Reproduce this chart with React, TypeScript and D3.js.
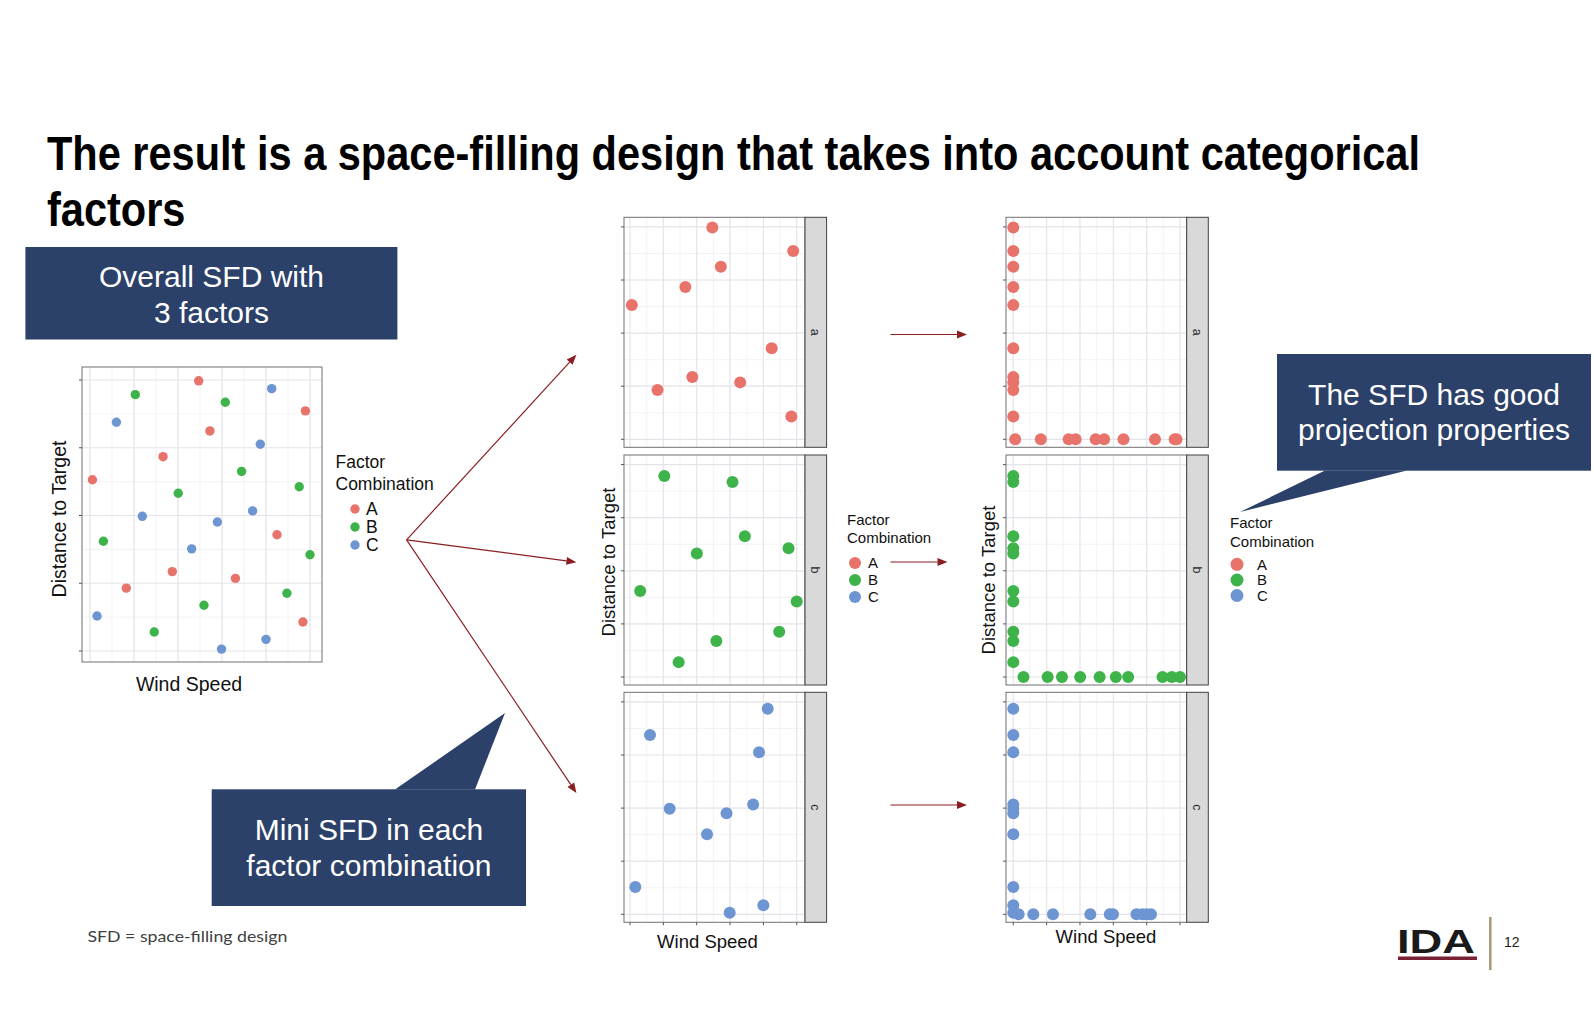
import React, { useRef, useEffect } from "react";
import * as d3 from "d3";

// factor combinations and their colours
const categories = ["A", "B", "C"];
const facetNames = ["a", "b", "c"];
const categoryColors = ["#E8736B", "#3DB34A", "#6D95D2"];

// scaled design points (wind speed, distance to target), one pair of lists per combination
const windA = [0.494, 0.979, 0.545, 0.332, 0.011, 0.85, 0.374, 0.661, 0.165, 0.968];
const distA = [0.997, 0.886, 0.812, 0.717, 0.632, 0.429, 0.293, 0.268, 0.232, 0.107];
const windB = [0.206, 0.615, 0.689, 0.951, 0.401, 0.061, 1.0, 0.895, 0.518, 0.292];
const distB = [0.946, 0.918, 0.663, 0.606, 0.582, 0.405, 0.355, 0.213, 0.169, 0.07];
const windC = [0.826, 0.12, 0.774, 0.739, 0.238, 0.579, 0.462, 0.032, 0.8, 0.598];
const distC = [0.968, 0.844, 0.763, 0.517, 0.497, 0.476, 0.377, 0.129, 0.043, 0.007];

const xBreaks = [0, 0.2, 0.4, 0.6, 0.8, 1];
const xMinor = [0.1, 0.3, 0.5, 0.7, 0.9];
const yBreaks = [0, 0.25, 0.5, 0.75, 1];
const yMinor = [0.125, 0.375, 0.625, 0.875];

const titleLines = [
  "The result is a space-filling design that takes into account categorical",
  "factors",
];
const overallLines = ["Overall SFD with", "3 factors"];
const miniLines = ["Mini SFD in each", "factor combination"];
const projLines = ["The SFD has good", "projection properties"];
const footnote = "SFD = space-filling design";
const pageNumber = "12";

const winds = [windA, windB, windC];
const dists = [distA, distB, distC];

const NAVY = "#2C4169";
const ARROW = "#8B1E22";
const SANS = "'Liberation Sans', Arial, Helvetica, sans-serif";

type Pt = { x: number; y: number; c: string };

function Panel({ left, top, width, height, xPad, yPad, pts, r, strip, xTicks }: any) {
  const x = d3.scaleLinear().domain([0, 1]).range([left + xPad[0], left + width - xPad[1]]);
  const y = d3.scaleLinear().domain([0, 1]).range([top + height - yPad[1], top + yPad[0]]);
  const bottom = top + height;
  const right = left + width;
  return (
    <g>
      <rect x={left} y={top} width={width} height={height} fill="#fff" />
      {xMinor.map((v) => (
        <line key={`xm${v}`} x1={x(v)} x2={x(v)} y1={top} y2={bottom} stroke="#F0F0F3" strokeWidth={0.8} />
      ))}
      {yMinor.map((v) => (
        <line key={`ym${v}`} x1={left} x2={right} y1={y(v)} y2={y(v)} stroke="#F0F0F3" strokeWidth={0.8} />
      ))}
      {xBreaks.map((v) => (
        <line key={`xb${v}`} x1={x(v)} x2={x(v)} y1={top} y2={bottom} stroke="#E4E4EA" strokeWidth={1.2} />
      ))}
      {yBreaks.map((v) => (
        <line key={`yb${v}`} x1={left} x2={right} y1={y(v)} y2={y(v)} stroke="#E4E4EA" strokeWidth={1.2} />
      ))}
      {(pts as Pt[]).map((p, i) => (
        <circle key={i} cx={x(p.x)} cy={y(p.y)} r={r} fill={p.c} />
      ))}
      <rect x={left} y={top} width={width} height={height} fill="none" stroke="#707070" strokeWidth={1} />
      {yBreaks.map((v) => (
        <line key={`yt${v}`} x1={left - 3} x2={left} y1={y(v)} y2={y(v)} stroke="#555" strokeWidth={1} />
      ))}
      {xTicks &&
        xBreaks.map((v) => (
          <line key={`xt${v}`} x1={x(v)} x2={x(v)} y1={bottom} y2={bottom + 3} stroke="#555" strokeWidth={1} />
        ))}
      {strip && (
        <g>
          <rect x={right} y={top} width={21.6} height={height} fill="#D9D9D9" stroke="#404040" strokeWidth={1} />
          <text
            transform={`translate(${right + 10.8},${top + height / 2}) rotate(90)`}
            textAnchor="middle"
            dy="0.35em"
            fontSize={12.5}
            fill="#2a2a2a"
          >
            {strip}
          </text>
        </g>
      )}
    </g>
  );
}

function Legend({ x, titleY, lineGap, dotX, dotYs, textX, size, r }: any) {
  return (
    <g fontSize={size} fill="#111">
      <text x={x} y={titleY}>Factor</text>
      <text x={x} y={titleY + lineGap}>Combination</text>
      {categories.map((c, i) => (
        <g key={c}>
          <circle cx={dotX} cy={dotYs[i]} r={r} fill={categoryColors[i]} />
          <text x={textX} y={dotYs[i] + size * 0.36}>{c}</text>
        </g>
      ))}
    </g>
  );
}

function Arrow({ x1, y1, x2, y2 }: any) {
  const a = Math.atan2(y2 - y1, x2 - x1);
  const len = 10;
  const hw = 4;
  const bx = x2 - len * Math.cos(a);
  const by = y2 - len * Math.sin(a);
  const px = -Math.sin(a) * hw;
  const py = Math.cos(a) * hw;
  return (
    <g>
      <line x1={x1} y1={y1} x2={bx} y2={by} stroke={ARROW} strokeWidth={1.2} />
      <path d={`M${x2},${y2}L${bx + px},${by + py}L${bx - px},${by - py}Z`} fill={ARROW} />
    </g>
  );
}

function Callout({ box, tail, lines, cx, baselines }: any) {
  const [x0, y0, x1, y1] = box;
  return (
    <g>
      <rect x={x0} y={y0} width={x1 - x0} height={y1 - y0} fill={NAVY} />
      <path d={`M${tail[0][0]},${tail[0][1]}L${tail[1][0]},${tail[1][1]}L${tail[2][0]},${tail[2][1]}Z`} fill={NAVY} />
      {lines.map((t: string, i: number) => (
        <text key={i} x={cx} y={baselines[i]} textAnchor="middle" fontSize={30} fill="#fff">
          {t}
        </text>
      ))}
    </g>
  );
}

export default function App() {
  const titleRef = useRef<SVGGElement>(null);

  // squeeze the bold title to the slide's condensed width
  useEffect(() => {
    const g = d3.select(titleRef.current);
    const first = g.select<SVGTextElement>("text.l0").node();
    if (!first) return;
    const natural = first.getComputedTextLength();
    const sx = natural > 0 ? 1373 / natural : 1;
    g.selectAll<SVGTextElement, unknown>("text").each(function () {
      const el = d3.select(this);
      el.attr("transform", `translate(47,${el.attr("data-y")}) scale(${sx},1)`);
    });
  }, []);

  const allPts: Pt[] = [];
  winds.forEach((w, g) => w.forEach((v, i) => allPts.push({ x: v, y: dists[g][i], c: categoryColors[g] })));

  const rowTops = [217.3, 455, 692.3];
  const rowH = 230;

  return (
    <svg
      width={1594}
      height={1016}
      style={{ position: "absolute", left: 0, top: 0, background: "#fff" }}
      fontFamily={SANS}
    >
      <rect x={0} y={0} width={1594} height={1016} fill="#fff" />

      {/* title */}
      <g ref={titleRef} fontWeight="bold" fontSize={48} fill="#000">
        {titleLines.map((t, i) => (
          <text key={i} className={`l${i}`} data-y={170 + i * 56} transform={`translate(47,${170 + i * 56}) scale(0.76,1)`}>
            {t}
          </text>
        ))}
      </g>

      {/* overall design */}
      <rect x={25.4} y={247} width={372} height={92.5} fill={NAVY} />
      {overallLines.map((t, i) => (
        <text key={t} x={211.5} y={287 + i * 35.5} textAnchor="middle" fontSize={30} fill="#fff">{t}</text>
      ))}

      <Panel left={82} top={367} width={240} height={295} xPad={[8, 12]} yPad={[13, 11]} pts={allPts} r={4.7} />
      <text transform="translate(66,519) rotate(-90)" textAnchor="middle" fontSize={19.5} fill="#111">Distance to Target</text>
      <text x={189} y={691} textAnchor="middle" fontSize={19.5} fill="#111">Wind Speed</text>
      <Legend x={335.5} titleY={468} lineGap={22} dotX={355} dotYs={[509, 527, 545]} textX={366} size={17.5} r={4.7} />

      {/* arrows to the facets */}
      <Arrow x1={406.6} y1={539.8} x2={576.4} y2={354.8} />
      <Arrow x1={406.6} y1={539.8} x2={576.4} y2={562.2} />
      <Arrow x1={406.6} y1={539.8} x2={576.4} y2={793} />

      {/* mini designs per combination */}
      {categories.map((c, g) => (
        <Panel
          key={`m${c}`}
          left={624}
          top={rowTops[g]}
          width={181}
          height={rowH}
          xPad={[6, 8.3]}
          yPad={[9.6, 8]}
          pts={winds[g].map((v, i) => ({ x: v, y: dists[g][i], c: categoryColors[g] }))}
          r={6}
          strip={facetNames[g]}
          xTicks={g === 2}
        />
      ))}
      <text transform="translate(615,562) rotate(-90)" textAnchor="middle" fontSize={18.5} fill="#111">Distance to Target</text>
      <text x={707.5} y={948} textAnchor="middle" fontSize={18.5} fill="#111">Wind Speed</text>
      <Legend x={847} titleY={525} lineGap={18} dotX={855} dotYs={[563, 580, 597]} textX={868} size={15} r={6} />

      <Arrow x1={890.5} y1={334.5} x2={967} y2={334.5} />
      <Arrow x1={890.5} y1={562} x2={947.5} y2={562} />
      <Arrow x1={890.5} y1={805} x2={967} y2={805} />

      {/* one-dimensional projections */}
      {categories.map((c, g) => (
        <Panel
          key={`p${c}`}
          left={1006}
          top={rowTops[g]}
          width={180.7}
          height={rowH}
          xPad={[7.3, 6.7]}
          yPad={[9.6, 8]}
          pts={[
            ...dists[g].map((v) => ({ x: 0, y: v, c: categoryColors[g] })),
            ...winds[g].map((v) => ({ x: v, y: 0, c: categoryColors[g] })),
          ]}
          r={6}
          strip={facetNames[g]}
          xTicks={g === 2}
        />
      ))}
      <text transform="translate(995,580) rotate(-90)" textAnchor="middle" fontSize={18.5} fill="#111">Distance to Target</text>
      <text x={1106} y={943} textAnchor="middle" fontSize={18.5} fill="#111">Wind Speed</text>
      <Legend x={1230} titleY={528} lineGap={18.5} dotX={1237} dotYs={[564.3, 580, 595.5]} textX={1257} size={15} r={6.5} />

      <Callout
        box={[1277, 354, 1591, 470.7]}
        tail={[[1325, 470.5], [1240, 512], [1407, 470.5]]}
        lines={projLines}
        cx={1434}
        baselines={[405, 440]}
      />
      <Callout
        box={[211.7, 789.3, 526, 906]}
        tail={[[395, 789.5], [505, 713], [475, 789.5]]}
        lines={miniLines}
        cx={368.9}
        baselines={[840, 876]}
      />

      <text x={87.4} y={942} fontSize={16} fill="#404040" fontFamily="Lato, 'Open Sans', sans-serif" textLength={200} lengthAdjust="spacingAndGlyphs">{footnote}</text>

      {/* footer logo */}
      <text x={1397} y={953} fontSize={34} fontWeight="bold" fill="#1A1A1A" textLength={78} lengthAdjust="spacingAndGlyphs">IDA</text>
      <rect x={1398} y={956.5} width={79} height={3.5} fill="#7A2035" />
      <rect x={1489} y={917} width={2.6} height={53} fill="#A89B78" />
      <text x={1504} y={947} fontSize={14} fill="#222">{pageNumber}</text>
    </svg>
  );
}
